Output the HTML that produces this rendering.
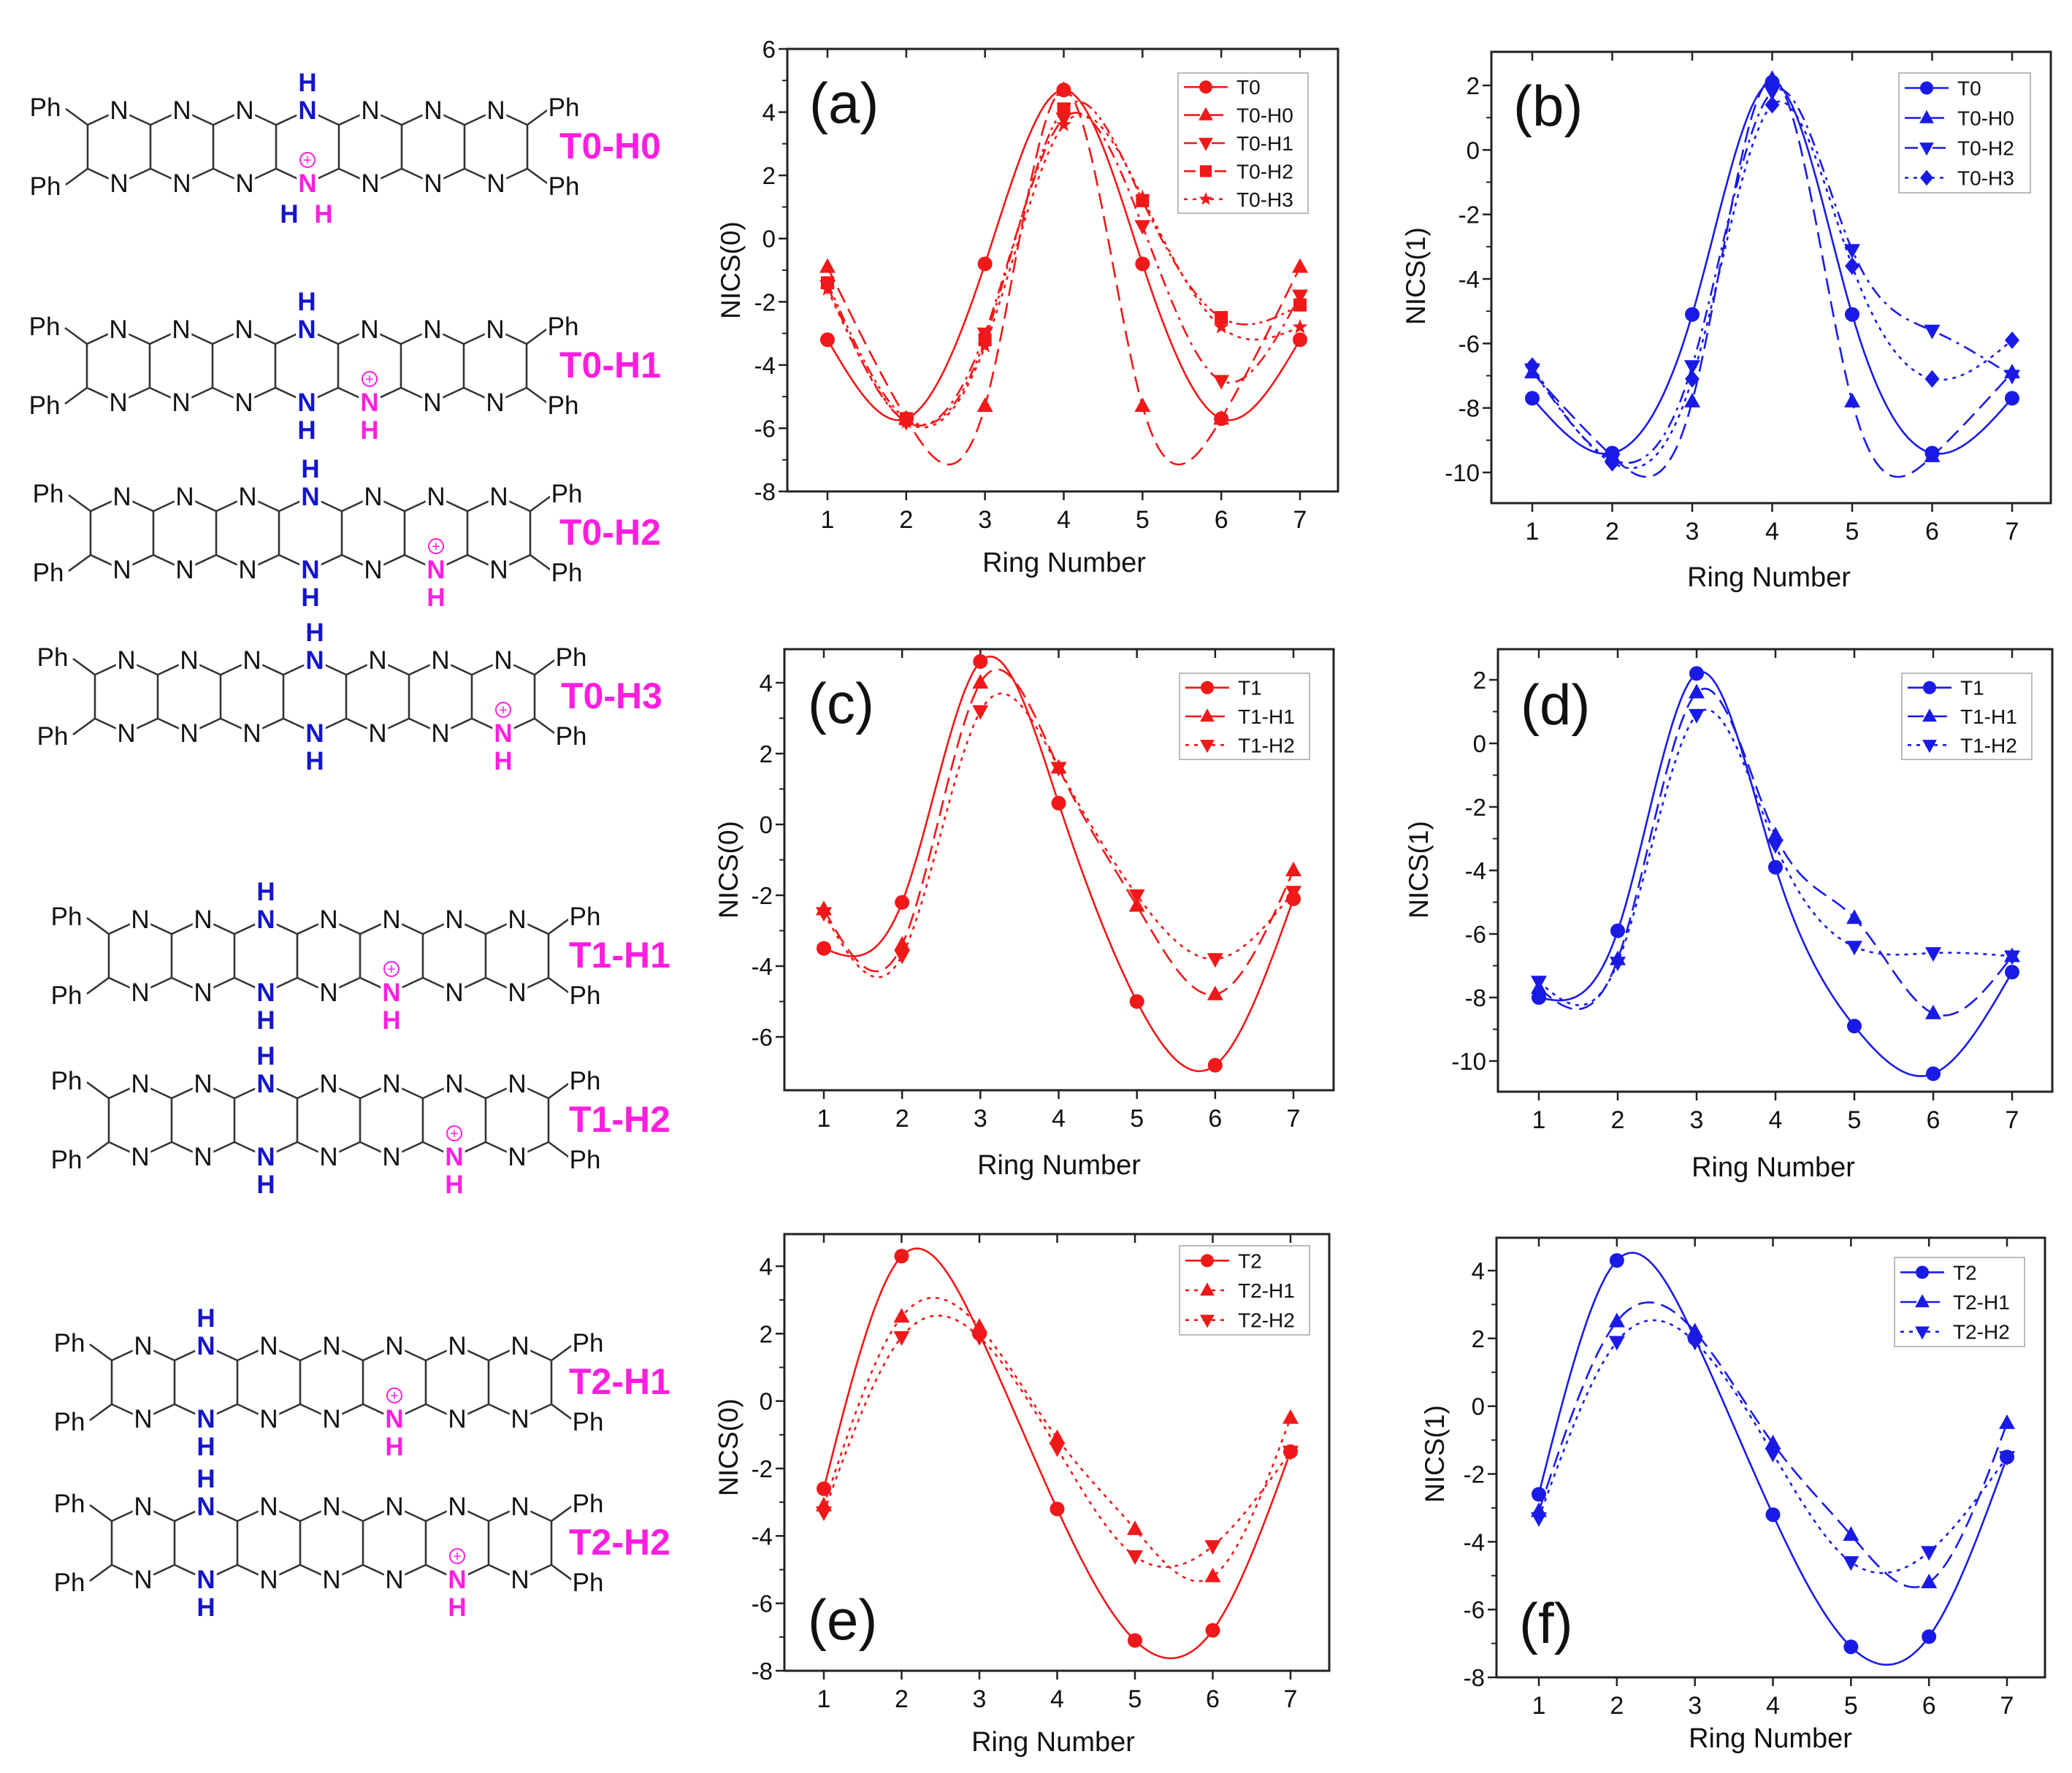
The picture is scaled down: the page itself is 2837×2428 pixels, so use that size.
<!DOCTYPE html>
<html><head><meta charset="utf-8"><style>
html,body{margin:0;padding:0;background:#fff;}
svg{display:block;font-family:"Liberation Sans",Arial,sans-serif;}
</style></head><body>
<svg id="fig" xmlns="http://www.w3.org/2000/svg" width="2837" height="2428" viewBox="0 0 2837 2428">
<rect width="2837" height="2428" fill="#fff"/>
<g id="mols"></g>
<g id="charts"></g>
</svg>
<script>
const ringNumbers=[1,2,3,4,5,6,7];
// panel a
const aT0=[-3.2,-5.7,-0.8,4.7,-0.8,-5.7,-3.2];
const aT0H0=[-0.9,-5.7,-5.3,4.7,-5.3,-5.7,-0.9];
const aT0H1=[-1.5,-5.8,-3.0,3.8,0.4,-4.5,-1.8];
const aT0H2=[-1.4,-5.7,-3.2,4.1,1.2,-2.5,-2.1];
const aT0H3=[-1.6,-5.8,-3.4,3.6,1.3,-2.8,-2.8];
// panel b
const bT0=[-7.7,-9.4,-5.1,2.1,-5.1,-9.4,-7.7];
const bT0H0=[-6.9,-9.5,-7.8,2.2,-7.8,-9.5,-6.9];
const bT0H2=[-6.8,-9.6,-6.7,1.8,-3.1,-5.6,-7.0];
const bT0H3=[-6.7,-9.7,-7.1,1.4,-3.6,-7.1,-5.9];
// panel c
const cT1=[-3.5,-2.2,4.6,0.6,-5.0,-6.8,-2.1];
const cT1H1=[-2.4,-3.4,4.0,1.6,-2.3,-4.8,-1.3];
const cT1H2=[-2.5,-3.7,3.2,1.6,-2.0,-3.8,-1.9];
// panel d
const dT1=[-8.0,-5.9,2.2,-3.9,-8.9,-10.4,-7.2];
const dT1H1=[-7.7,-6.8,1.6,-2.9,-5.5,-8.5,-6.7];
const dT1H2=[-7.5,-6.9,0.9,-3.2,-6.4,-6.6,-6.7];
// panel e
const eT2=[-2.6,4.3,2.0,-3.2,-7.1,-6.8,-1.5];
const eT2H1=[-3.1,2.5,2.2,-1.1,-3.8,-5.2,-0.5];
const eT2H2=[-3.3,1.9,1.9,-1.4,-4.6,-4.3,-1.5];
// panel f
const fT2=[-2.6,4.3,2.0,-3.2,-7.1,-6.8,-1.5];
const fT2H1=[-3.1,2.5,2.2,-1.1,-3.8,-5.2,-0.5];
const fT2H2=[-3.3,1.9,1.9,-1.4,-4.6,-4.3,-1.5];
const ticksA=[-8,-6,-4,-2,0,2,4,6];
const ticksB=[-10,-8,-6,-4,-2,0,2];
const ticksC=[-6,-4,-2,0,2,4];
const ticksD=[-10,-8,-6,-4,-2,0,2];
const ticksE=[-8,-6,-4,-2,0,2,4];
const ticksF=[-8,-6,-4,-2,0,2,4];

const NS="http://www.w3.org/2000/svg";
function mk(tag,attrs,parent,text){const e=document.createElementNS(NS,tag);for(const k in attrs)e.setAttribute(k,attrs[k]);if(text!==undefined)e.textContent=text;parent.appendChild(e);return e;}

const RED="#f01818",BLUE="#1a1ae6";
const DASH={solid:"",dash:"22 10",dashdot:"18 8 4 8",dot:"5 7",dashdotdot:"16 6 4 6 4 6"};

const panels=[
 {id:"a",frame:[1078,67,1832,673],x1:1133,x7:1780,yv:[6,-8],yp:[67,673],ticks:ticksA,color:RED,ytitle:"NICS(0)",yt:[1000,370],xt:[1457,770],lab:[1108,168],leg:[1613,100,178,192],
  series:[["T0",aT0,"circle","solid"],["T0-H0",aT0H0,"up","dash"],["T0-H1",aT0H1,"down","dashdot"],["T0-H2",aT0H2,"square","dashdotdot"],["T0-H3",aT0H3,"star","dot"]]},
 {id:"b",frame:[2042,71,2808,689],x1:2098,x7:2755,yv:[2,-10],yp:[117,647],ticks:ticksB,color:BLUE,ytitle:"NICS(1)",yt:[1938,378],xt:[2422,790],lab:[2072,172],leg:[2600,100,180,164],
  series:[["T0",bT0,"circle","solid"],["T0-H0",bT0H0,"up","dash"],["T0-H2",bT0H2,"down","dashdot"],["T0-H3",bT0H3,"diamond","dot"]]},
 {id:"c",frame:[1074,889,1826,1493],x1:1128,x7:1771,yv:[4,-6],yp:[935,1420],ticks:ticksC,color:RED,ytitle:"NICS(0)",yt:[997,1191],xt:[1450,1595],lab:[1106,990],leg:[1615,922,178,118],
  series:[["T1",cT1,"circle","solid"],["T1-H1",cT1H1,"up","dash"],["T1-H2",cT1H2,"down","dot"]]},
 {id:"d",frame:[2051,889,2810,1495],x1:2107,x7:2755,yv:[2,-10],yp:[931,1453],ticks:ticksD,color:BLUE,ytitle:"NICS(1)",yt:[1942,1191],xt:[2428,1598],lab:[2082,992],leg:[2604,922,178,118],
  series:[["T1",dT1,"circle","solid"],["T1-H1",dT1H1,"up","dash"],["T1-H2",dT1H2,"down","dot"]]},
 {id:"e",frame:[1074,1690,1820,2288],x1:1128,x7:1767,yv:[4,-8],yp:[1734,2288],ticks:ticksE,color:RED,ytitle:"NICS(0)",yt:[997,1982],xt:[1442,2385],lab:[1106,2245],leg:[1615,1706,178,122],
  series:[["T2",eT2,"circle","solid"],["T2-H1",eT2H1,"up","dot"],["T2-H2",eT2H2,"down","dot"]]},
 {id:"f",frame:[2049,1695,2800,2297],x1:2107,x7:2748,yv:[4,-8],yp:[1740,2297],ticks:ticksF,color:BLUE,ytitle:"NICS(1)",yt:[1964,1991],xt:[2424,2380],lab:[2080,2250],leg:[2594,1722,178,122],
  series:[["T2",fT2,"circle","solid"],["T2-H1",fT2H1,"up","dash"],["T2-H2",fT2H2,"down","dot"]]}
];

function spline(xs,ys){const n=xs.length,h=[],al=[],l=[1],mu=[0],z=[0],c=new Array(n).fill(0),b=[],d=[];
 for(let i=0;i<n-1;i++)h.push(xs[i+1]-xs[i]);
 for(let i=1;i<n-1;i++)al[i]=3/h[i]*(ys[i+1]-ys[i])-3/h[i-1]*(ys[i]-ys[i-1]);
 for(let i=1;i<n-1;i++){l[i]=2*(xs[i+1]-xs[i-1])-h[i-1]*mu[i-1];mu[i]=h[i]/l[i];z[i]=(al[i]-h[i-1]*z[i-1])/l[i];}
 for(let j=n-2;j>=0;j--){c[j]=(j>0?z[j]:0)-mu[j]*c[j+1];b[j]=(ys[j+1]-ys[j])/h[j]-h[j]*(c[j+1]+2*c[j])/3;d[j]=(c[j+1]-c[j])/(3*h[j]);}
 return x=>{let j=Math.min(n-2,Math.max(0,Math.floor(x-xs[0])));for(let k=0;k<n-1;k++)if(x>=xs[k]&&x<=xs[k+1]){j=k;break;}const t=x-xs[j];return ys[j]+b[j]*t+c[j]*t*t+d[j]*t*t*t;};}

function marker(g,type,x,y,col,r){r=r||10;let e;
 if(type==="circle")e=mk("circle",{cx:x,cy:y,r:r},g);
 else if(type==="up")e=mk("polygon",{points:`${x},${y-r*1.2} ${x-r*1.1},${y+r*0.8} ${x+r*1.1},${y+r*0.8}`},g);
 else if(type==="down")e=mk("polygon",{points:`${x},${y+r*1.2} ${x-r*1.1},${y-r*0.8} ${x+r*1.1},${y-r*0.8}`},g);
 else if(type==="square")e=mk("rect",{x:x-r*0.9,y:y-r*0.9,width:r*1.8,height:r*1.8},g);
 else if(type==="diamond")e=mk("polygon",{points:`${x},${y-r*1.2} ${x+r},${y} ${x},${y+r*1.2} ${x-r},${y}`},g);
 else{let p=[];for(let i=0;i<10;i++){const a=-Math.PI/2+i*Math.PI/5,rr=i%2?r*0.45:r*1.1;p.push((x+rr*Math.cos(a)).toFixed(1)+","+(y+rr*Math.sin(a)).toFixed(1));}e=mk("polygon",{points:p.join(" ")},g);}
 e.setAttribute("fill",col);return e;}

const charts=document.getElementById("charts");
panels.forEach(P=>{
 const g=mk("g",{},charts);
 
 
 const [fx0,fy0,fx1,fy1]=P.frame;
 const X=v=>P.x1+(v-1)*(P.x7-P.x1)/6;
 const Y=v=>P.yp[0]+(v-P.yv[0])*(P.yp[1]-P.yp[0])/(P.yv[1]-P.yv[0]);
 const fr=mk("rect",{x:fx0,y:fy0,width:fx1-fx0,height:fy1-fy0,fill:"none",stroke:"#222","stroke-width":3},g);
 
 
 ringNumbers.forEach(v=>{const x=X(v);
  mk("line",{x1:x,y1:fy1,x2:x,y2:fy1+12,stroke:"#222","stroke-width":2.5},g);
  mk("line",{x1:x,y1:fy0,x2:x,y2:fy0+12,stroke:"#222","stroke-width":2.5},g);
  const t=mk("text",{x:x,y:fy1+50,"font-size":34,"text-anchor":"middle",fill:"#111"},g,String(v));
  
  
 });
 P.ticks.forEach((v,i)=>{const y=Y(v);
  mk("line",{x1:fx0-12,y1:y,x2:fx0,y2:y,stroke:"#222","stroke-width":2.5},g);
  if(i<P.ticks.length-1){const ym=Y(v+1);mk("line",{x1:fx0-7,y1:ym,x2:fx0,y2:ym,stroke:"#222","stroke-width":2},g);}
  const t=mk("text",{x:fx0-16,y:y+12,"font-size":33,"text-anchor":"end",fill:"#111"},g,String(v));
  
  
 });
 const xt=mk("text",{x:P.xt[0],y:P.xt[1]+13,"font-size":38,"text-anchor":"middle",fill:"#111"},g,"Ring Number");
 
 
 const yt=mk("text",{x:0,y:0,"font-size":37,"text-anchor":"middle",fill:"#111",transform:`translate(${P.yt[0]+13},${P.yt[1]}) rotate(-90)`},g,P.ytitle);
 
 
 const pl=mk("text",{x:P.lab[0],y:P.lab[1],"font-size":78,fill:"#111"},g,"("+P.id+")");
 
 
 P.series.forEach(s=>{
  const sg=mk("g",{},g);
  
  
  const f=spline(ringNumbers,s[1]);let d="";
  for(let t=1;t<=7.0001;t+=0.05){d+=(d?"L":"M")+X(t).toFixed(1)+","+Y(f(t)).toFixed(1);}
  const ln=mk("path",{d:d,fill:"none",stroke:P.color,"stroke-width":2.6,"stroke-dasharray":DASH[s[3]]},sg);
  
  
  ringNumbers.forEach((r,i)=>{const m=marker(sg,s[2],X(r),Y(s[1][i]),P.color,10);
   
   });
 });
 const [lx,ly,lw,lh]=P.leg;
 const lg=mk("g",{},g);
 
 
 mk("rect",{x:lx,y:ly,width:lw,height:lh,fill:"#fff",stroke:"#bbb","stroke-width":2},lg);
 const step=lh/P.series.length;
 P.series.forEach((s,i)=>{const y=ly+step*(i+0.5);
  const en=mk("g",{},lg);
  
  
  mk("line",{x1:lx+8,y1:y,x2:lx+68,y2:y,stroke:P.color,"stroke-width":2.6,"stroke-dasharray":DASH[s[3]]},en);
  marker(en,s[2],lx+38,y,P.color,9);
  mk("text",{x:lx+80,y:y+10,"font-size":28,fill:"#111"},en,s[0]);
 });
});

const mols=document.getElementById("mols");
const MAG="#ff1ee0",MB="#1414cc";
const molSpecs=[
 {label:"T0-H0",x0:120,y:151,blue:3,mag:3,h0:true,lx:766},
 {label:"T0-H1",x0:119,y:451,blue:3,mag:4,lx:766},
 {label:"T0-H2",x0:124,y:680,blue:3,mag:5,lx:766},
 {label:"T0-H3",x0:130,y:904,blue:3,mag:6,lx:768},
 {label:"T1-H1",x0:149,y:1259,blue:2,mag:4,lx:779},
 {label:"T1-H2",x0:149,y:1484,blue:2,mag:5,lx:779},
 {label:"T2-H1",x0:153,y:1843,blue:1,mag:4,lx:779},
 {label:"T2-H2",x0:153,y:2063,blue:1,mag:5,lx:779}
];
molSpecs.forEach(m=>{
 const g=mk("g",{},mols);
 
 
 const S=86,yT=m.y,yB=m.y+100,jT=m.y+20,jB=m.y+80;
 const bond={stroke:"#333","stroke-width":2.6};
 for(let k=0;k<8;k++){const xj=m.x0+S*k;
  mk("line",Object.assign({x1:xj,y1:jT,x2:xj,y2:jB},bond),g);
  if(k<7){const xn=xj+S/2;
   mk("line",Object.assign({x1:xj,y1:jT,x2:xn,y2:yT},bond),g);
   mk("line",Object.assign({x1:xn,y1:yT,x2:xj+S,y2:jT},bond),g);
   mk("line",Object.assign({x1:xj,y1:jB,x2:xn,y2:yB},bond),g);
   mk("line",Object.assign({x1:xn,y1:yB,x2:xj+S,y2:jB},bond),g);}
 }
 const xe=m.x0+S*7;
 mk("line",Object.assign({x1:m.x0,y1:jT,x2:m.x0-30,y2:yT-2},bond),g);
 mk("line",Object.assign({x1:m.x0,y1:jB,x2:m.x0-30,y2:yB+2},bond),g);
 mk("line",Object.assign({x1:xe,y1:jT,x2:xe+30,y2:yT-2},bond),g);
 mk("line",Object.assign({x1:xe,y1:jB,x2:xe+30,y2:yB+2},bond),g);
 const txt=(x,y,s,col,bold,fs)=>mk("text",{x:x,y:y+12,"font-size":fs||35,"text-anchor":"middle",fill:col,"font-weight":bold?"bold":"normal",stroke:"#fff","stroke-width":9,"paint-order":"stroke"},g,s);
 txt(m.x0-58,yT-4,"Ph","#111");txt(m.x0-58,yB+4,"Ph","#111");
 txt(xe+50,yT-4,"Ph","#111");txt(xe+50,yB+4,"Ph","#111");
 for(let k=0;k<7;k++){const xn=m.x0+S*k+S/2;
  if(k===m.blue){txt(xn,yT,"N",MB,true);txt(xn,yT-38,"H",MB,true);}
  else txt(xn,yT,"N","#111");
  if(k===m.mag){txt(xn,yB,"N",MAG,true);
   mk("circle",{cx:xn,cy:yB-32,r:10,fill:"#fff",stroke:MAG,"stroke-width":2},g);
   mk("text",{x:xn,y:yB-25,"font-size":20,"text-anchor":"middle",fill:MAG},g,"+");
   if(m.h0){txt(xn-25,yB+42,"H",MB,true);txt(xn+22,yB+42,"H",MAG,true);}
   else txt(xn,yB+38,"H",MAG,true);
  } else if(k===m.blue){txt(xn,yB,"N",MB,true);txt(xn,yB+38,"H",MB,true);}
  else txt(xn,yB,"N","#111");
 }
 const lb=mk("text",{x:m.lx,y:m.y+66,"font-size":50,"font-weight":"bold",fill:MAG},g,m.label);
 
 
});
</script>
</body></html>
